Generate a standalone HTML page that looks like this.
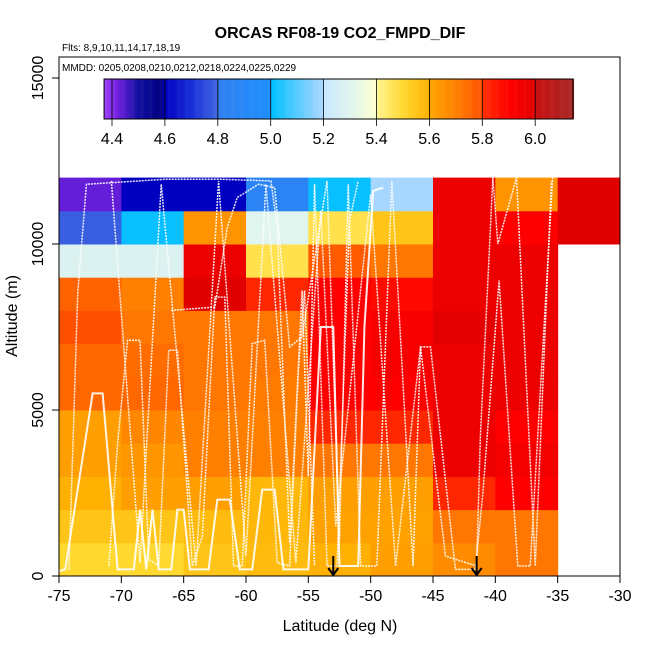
<!DOCTYPE html>
<html><head><meta charset="utf-8"><style>
body{margin:0;background:#fff;}
svg text{font-family:"Liberation Sans",sans-serif;}
</style></head><body>
<svg id="chart" width="650" height="650" viewBox="0 0 650 650" xmlns="http://www.w3.org/2000/svg">
<rect width="650" height="650" fill="#fff"/>
<g id="cells"></g>
<g id="tracks"></g>
<rect x="59" y="57" width="561" height="519" fill="none" stroke="#000" stroke-width="1"/>
<g id="cbar"></g>
<g id="axes"></g>
<text x="340" y="38" text-anchor="middle" font-size="16" font-weight="bold">ORCAS RF08-19 CO2_FMPD_DIF</text>
<text x="62" y="51" font-size="10">Flts: 8,9,10,11,14,17,18,19</text>
<text x="62" y="71" font-size="10">MMDD: 0205,0208,0210,0212,0218,0224,0225,0229</text>
<text x="340" y="631" text-anchor="middle" font-size="16">Latitude (deg N)</text>
<text x="0" y="0" transform="translate(17,316) rotate(-90)" text-anchor="middle" font-size="16">Altitude (m)</text>
</svg>
<script>
const latEdges = [-75,-70,-65,-60,-55,-50,-45,-40,-35,-30];
const altEdges = [0,1000,2000,3000,4000,5000,6000,7000,8000,9000,10000,11000,12000];
const cellValues = [
 [5.5,5.5,5.55,5.57,5.6,5.62,5.67,5.72,null],
 [5.55,5.55,5.57,5.58,5.61,5.61,5.72,5.72,null],
 [5.6,5.62,5.62,5.58,5.62,5.62,5.82,5.9,null],
 [5.62,5.64,5.7,5.7,5.72,5.72,5.96,5.94,null],
 [5.62,5.68,5.7,5.7,5.82,5.82,5.96,5.9,null],
 [5.75,5.75,5.72,5.71,5.9,5.9,5.96,5.96,null],
 [5.75,5.74,5.72,5.72,5.9,5.93,5.96,5.96,null],
 [5.8,5.72,5.72,5.72,5.9,5.92,5.99,5.96,null],
 [5.76,5.7,6.0,5.82,5.9,5.88,5.96,5.96,null],
 [5.28,5.28,5.96,5.47,5.78,5.72,5.96,5.96,null],
 [4.78,5.01,5.65,5.3,5.47,5.55,5.96,5.9,6.0],
 [4.43,4.6,4.6,4.85,5.01,5.19,5.96,5.65,6.0]
];
const xTicks = [-75,-70,-65,-60,-55,-50,-45,-40,-35,-30];
const yTicks = [0,5000,10000,15000];
const cbarTicks = [4.4,4.6,4.8,5.0,5.2,5.4,5.6,5.8,6.0];
const cbarLabels = ["4.4","4.6","4.8","5.0","5.2","5.4","5.6","5.8","6.0"];
const arrowLats = [-53.0,-41.5];
const track1 = [[-75,150],[-74.5,200],[-72.3,5500],[-71.5,5500],[-70.3,200],[-69,200],[-68.5,2000],[-68,200],[-67.5,2000],[-67,200],[-66,200],[-65.5,2000],[-65,2000],[-64.5,200],[-63,200],[-62.3,2300],[-61.3,2300],[-60.5,200],[-59.5,200],[-58.7,2600],[-57.7,2600],[-57,200],[-55,200],[-54,7500],[-53,7500],[-52.5,300],[-51,300],[-50.5,7500],[-49.8,11600],[-49,11700]];
const track2 = [[-74.2,200],[-73.5,8500],[-72.8,11800],[-66.5,11950],[-62,11950],[-58,11900],[-57.5,10500],[-56.5,1000],[-55.5,8600],[-55,3000],[-54.5,11800],[-53.5,300],[-52.7,300],[-51.7,10700],[-51,11900]];
const track3 = [[-71,300],[-70.3,4000],[-69.5,7100],[-68.5,7100],[-67.8,500],[-67,300],[-66.2,6800],[-65.5,6800],[-64.3,300],[-63.5,1200],[-62.5,8400],[-61.7,8400],[-61,300],[-60.3,300],[-59.5,7000],[-58.5,7100],[-57.5,400],[-56.5,300],[-55.8,6200],[-55.3,8600],[-54.5,300]];
const track4 = [[-66,8000],[-62.5,8100],[-61.5,10500],[-60.7,11400],[-59,11800],[-57.7,11700],[-56.5,6900],[-55.5,7200],[-53.5,11900],[-52.5,1100],[-51.8,11800],[-50.8,300],[-49.5,300],[-48.3,11900],[-46.6,300],[-46,6900],[-45.2,6900],[-43.2,200],[-41.6,200],[-41,2500],[-39.7,8900],[-38.2,300],[-37.2,300],[-35.4,12000]];
const track5 = [[-70.8,11900],[-68.5,400],[-66.8,11800],[-64,300],[-62.2,11900],[-60,600],[-58.4,11800],[-56,400],[-54,11000],[-52.8,1500],[-50,11500],[-48,300],[-46,6900],[-44,600],[-41.5,300],[-41.2,4200],[-40.2,12000],[-39.8,10000],[-38.3,12000],[-36.8,300],[-35.5,11900]];
const tracks = [track1,track2,track3,track4,track5];

const NS="http://www.w3.org/2000/svg";
const X = v => 59 + (v + 75) * (561/45);
const Y = a => 576 - a * (166/5000);
const CB = v => 112 + (v - 4.4) * (52.9/0.2);
const stops = [[4.37,'#a040ff'],[4.42,'#7020e0'],[4.5,'#1010a0'],[4.58,'#000080'],[4.6,'#0000c0'],[4.7,'#1a30d8'],[4.8,'#4169e1'],[4.801,'#3080f0'],[5.0,'#1e90ff'],[5.001,'#00bfff'],[5.2,'#b0d8ff'],[5.201,'#c8e8ff'],[5.3,'#e0f5ee'],[5.4,'#ffffd0'],[5.401,'#fff490'],[5.5,'#ffd830'],[5.6,'#ffb000'],[5.601,'#ffa500'],[5.7,'#ff8000'],[5.8,'#ff5000'],[5.801,'#ff3000'],[5.9,'#ff0000'],[6.0,'#e00000'],[6.001,'#c81010'],[6.15,'#a52a2a']];
function hex(c){return [1,3,5].map(i=>parseInt(c.substr(i,2),16));}
function color(v){
  if(v<=stops[0][0]) return stops[0][1];
  for(let i=1;i<stops.length;i++){
    if(v<=stops[i][0]){
      const [a,ca]=stops[i-1],[b,cb]=stops[i];const t=(v-a)/(b-a);
      const A=hex(ca),B=hex(cb);
      return 'rgb('+A.map((x,k)=>Math.round(x+(B[k]-x)*t)).join(',')+')';
    }
  }
  return stops[stops.length-1][1];
}
function mk(tag,attrs,parent){const e=document.createElementNS(NS,tag);for(const k in attrs)e.setAttribute(k,attrs[k]);parent.appendChild(e);return e;}
const cells=document.getElementById('cells');
cellValues.forEach((row,r)=>row.forEach((v,c)=>{
  if(v===null) return;
  const x0=X(latEdges[c]),x1=X(latEdges[c+1]),y0=Y(altEdges[r+1]),y1=Y(altEdges[r]);
  const e=mk('rect',{x:x0,y:y0,width:x1-x0+0.5,height:y1-y0+0.5,fill:color(v)},cells);
  
  
}));
const tg=document.getElementById('tracks');
tracks.forEach((t,i)=>{
  const e=mk('polyline',{points:t.map(p=>X(p[0])+','+Y(p[1])).join(' '),fill:'none',stroke:'#fff','stroke-width':i===0?2:1.5,'stroke-dasharray':i===0?'none':'2,1','stroke-opacity':0.9},tg);
  
  
});
const cb=document.getElementById('cbar');
for(let v=4.37;v<6.143;v+=0.004){
  const e=mk('rect',{x:CB(v),y:79,width:1.3,height:40,fill:color(v)},cb);
  
  
}
mk('rect',{x:CB(4.37),y:79,width:CB(6.143)-CB(4.37),height:40,fill:'none',stroke:'#000','stroke-width':1},cb);
cbarTicks.forEach((v,i)=>{
  mk('line',{x1:CB(v),x2:CB(v),y1:79,y2:119,stroke:'#000','stroke-width':0.8},cb);
  mk('line',{x1:CB(v),x2:CB(v),y1:119,y2:126,stroke:'#000','stroke-width':0.8},cb);
  const t=mk('text',{x:CB(v),y:144,'text-anchor':'middle','font-size':16},cb);t.textContent=cbarLabels[i];
  
  
});
const ax=document.getElementById('axes');
xTicks.forEach(v=>{
  mk('line',{x1:X(v),x2:X(v),y1:576,y2:583,stroke:'#000'},ax);
  const t=mk('text',{x:X(v),y:601,'text-anchor':'middle','font-size':16},ax);t.textContent=v;
  
  
});
yTicks.forEach(v=>{
  mk('line',{x1:52,x2:59,y1:Y(v),y2:Y(v),stroke:'#000'},ax);
  const t=mk('text',{x:0,y:0,transform:'translate(43,'+Y(v)+') rotate(-90)','text-anchor':'middle','font-size':16},ax);t.textContent=v;
  
  
});
arrowLats.forEach(v=>{
  const g=mk('g',{},ax);
  
  
  mk('line',{x1:X(v),x2:X(v),y1:556,y2:575,stroke:'#000','stroke-width':2},g);
  mk('polyline',{points:(X(v)-5)+',568 '+X(v)+',575 '+(X(v)+5)+',568',fill:'none',stroke:'#000','stroke-width':2},g);
});
</script>
</body></html>
